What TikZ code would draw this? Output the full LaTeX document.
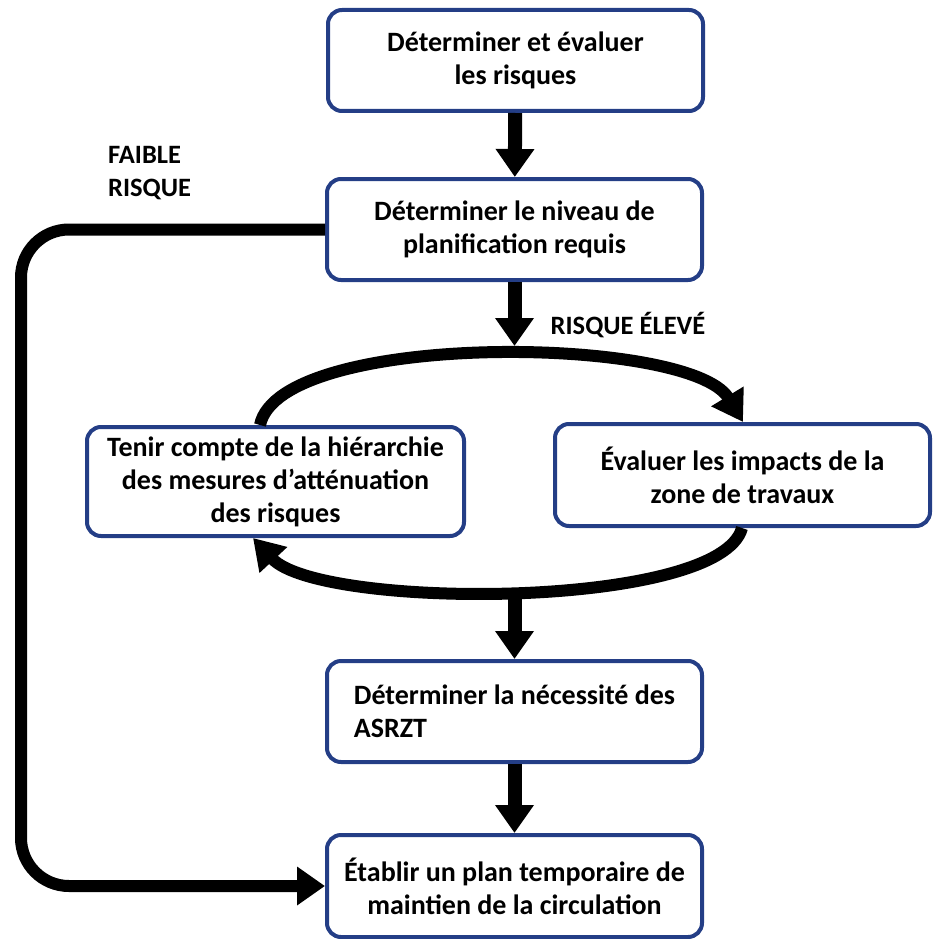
\documentclass[tikz,border=0pt]{standalone}
\usepackage{fontspec}
\setmainfont{Carlito}
\usetikzlibrary{arrows.meta}

\definecolor{boxblue}{RGB}{36,62,134}

\begin{document}
\begin{tikzpicture}[x=1pt,y=-1pt,
    stepbox/.style={draw=boxblue, line width=4pt, rounded corners=14pt,
        minimum width=375pt, minimum height=101pt, align=center, inner sep=0pt,
        font=\bfseries\fontsize{28}{33}\selectfont},
    lbl/.style={font=\bfseries\fontsize{26.5}{33}\selectfont, inner sep=0pt},
    flow/.style={line width=14pt, -{Triangle[width=37pt,length=28pt]}},
    loop/.style={line width=12pt, -{Triangle[width=36pt,length=30pt]}}]
    \useasboundingbox (0,0) rectangle (932,939);

    % Main steps
    \node[stepbox] (b1) at (515.5,60.5) {Déterminer et évaluer\\les risques};
    \node[stepbox] (b2) at (514.5,229.5) {Déterminer le niveau de\\planification requis};
    \node[stepbox, minimum width=377pt, minimum height=109pt] (b3) at (275.5,481.5)
        {Tenir compte de la hiérarchie\\des mesures d’atténuation\\des risques};
    \node[stepbox, minimum height=102pt] (b4) at (742.5,475) {Évaluer les impacts de la\\zone de travaux};
    \node[stepbox, align=left] (b5) at (514.5,711.5) {Déterminer la nécessité des\\ASRZT};
    \node[stepbox, minimum height=102pt] (b6) at (514.5,886) {Établir un plan temporaire de\\maintien de la circulation};

    % Labels
    \node[lbl, anchor=north west, align=left] (low) at (108,146) {FAIBLE\\RISQUE};
    \node[lbl] (high) at (628,325) {RISQUE ÉLEVÉ};

    % Straight flow
    \coordinate (looptop) at (514.5,346);
    \coordinate (loopbot) at (514.5,594);
    \draw[flow] (b1) -- (b2);
    \draw[flow] (b2) -- (looptop);
    \draw[flow] (loopbot) -- (b5);
    \draw[flow] (b5) -- (b6);

    % Low risk bypass
    \draw[flow, line width=12pt, rounded corners=48pt]
        (b2.west) -| ([xshift=-304pt]b6.west) -- (b6.west);

    % Mitigation loop
    \draw[loop] ([xshift=175pt]b3.north west) .. controls (280,330) and (690,335)
        .. ([xshift=190pt]b4.north west);
    \draw[loop] ([xshift=-190pt]b4.south east) .. controls (720,610) and (320,610)
        .. ([xshift=168pt]b3.south west);
\end{tikzpicture}
\end{document}
